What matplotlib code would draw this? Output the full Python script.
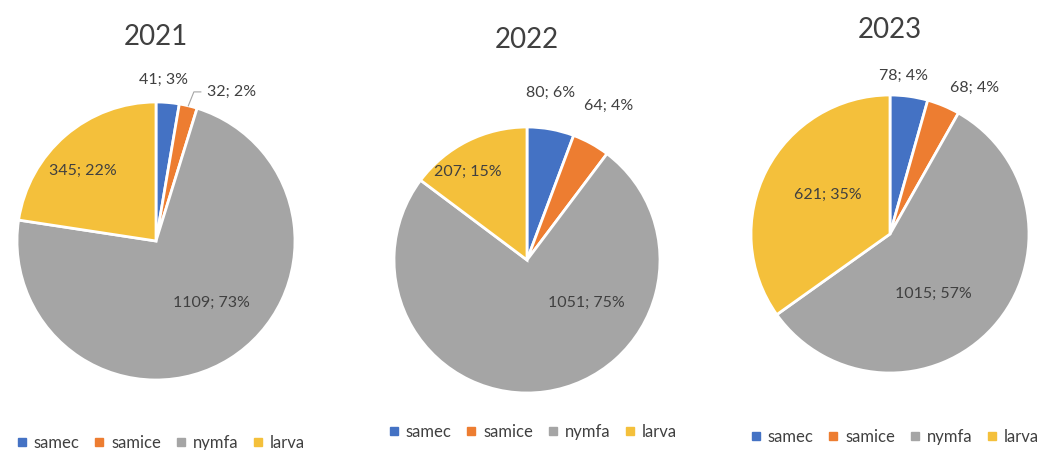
import numpy as np
import matplotlib
matplotlib.use("Agg")
import matplotlib.pyplot as plt
from matplotlib.lines import Line2D

# Data
categories = ["samec", "samice", "nymfa", "larva"]
years = ["2021", "2022", "2023"]
counts_2021 = [41, 32, 1109, 345]
counts_2022 = [80, 64, 1051, 207]
counts_2023 = [78, 68, 1015, 621]
pct_2021 = [3, 2, 73, 22]
pct_2022 = [6, 4, 75, 15]
pct_2023 = [4, 4, 57, 35]

colors = ["#4472C4", "#ED7D31", "#A5A5A5", "#F4C03B"]

plt.rcParams["font.family"] = ["Lato", "DejaVu Sans"]

W, H = 1048, 450
fig = plt.figure(figsize=(W / 100, H / 100), dpi=100)

# pie layout in pixels: centre x, centre y, radius
layout = [(156, 241, 139), (527, 260, 133), (890, 234, 139)]
title_y = [37, 40, 30]
legend_pos = [(161, 443), (533, 432), (895, 437)]
# label placement: (radius factor, angle in degrees) per wedge
label_pos = [
    [(1.16, 87.5), (1.20, 63), (0.60, -48), (0.73, 136)],
    [(1.27, 82), (1.31, 62), (0.55, -36), (0.80, 124)],
    [(1.14, 85), (1.21, 60), (0.53, -54), (0.53, 148)],
]
all_counts = [counts_2021, counts_2022, counts_2023]
all_pct = [pct_2021, pct_2022, pct_2023]

for i, (cx, cy, r) in enumerate(layout):
    L = r * 1.5
    ax = fig.add_axes([(cx - L) / W, 1 - (cy + L) / H, 2 * L / W, 2 * L / H])
    wedges, _ = ax.pie(all_counts[i], colors=colors, startangle=90, counterclock=False,
                       wedgeprops=dict(edgecolor="white", linewidth=2))
    ax.set_xlim(-1.5, 1.5)
    ax.set_ylim(-1.5, 1.5)
    ax.set_aspect("equal")
    ax.axis("off")

    for j, (rf, ang) in enumerate(label_pos[i]):
        a = np.deg2rad(ang)
        ax.text(rf * np.cos(a), rf * np.sin(a), f"{all_counts[i][j]}; {all_pct[i][j]}%",
                ha="center", va="center", fontsize=11.5, color="#404040")

    if i == 0:
        # leader line for the small samice slice
        w = wedges[1]
        mid = np.deg2rad((w.theta1 + w.theta2) / 2)
        x0, y0 = np.cos(mid), np.sin(mid)
        ax.plot([x0, x0 + 0.04, x0 + 0.09], [y0, y0 + 0.1, y0 + 0.1],
                color="#A5A5A5", lw=0.8)

    fig.text(cx / W, 1 - title_y[i] / H, years[i], ha="center", va="center",
             fontsize=20, color="#404040")

    handles = [Line2D([], [], marker="s", linestyle="", markersize=6, color=c) for c in colors]
    fig.legend(handles, categories, loc="center", ncol=4, frameon=False,
               bbox_to_anchor=(legend_pos[i][0] / W, 1 - legend_pos[i][1] / H),
               fontsize=12, handlelength=0.6, handletextpad=0.4, columnspacing=0.9,
               labelcolor="#404040", borderpad=0.2)

fig.savefig("out.png", dpi=100, facecolor="white")
